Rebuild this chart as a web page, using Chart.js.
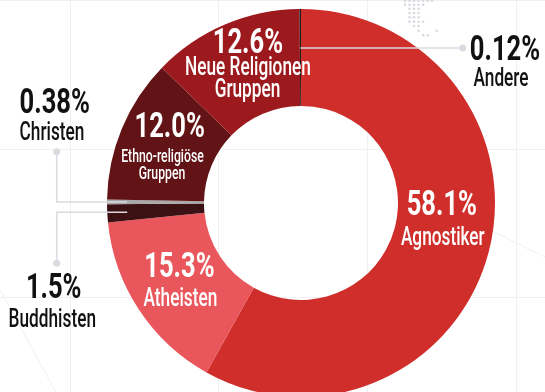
<!DOCTYPE html>
<html><head><meta charset="utf-8">
<script src="https://cdn.jsdelivr.net/npm/chart.js@4.4.1/dist/chart.umd.min.js"></script>
<style>
html,body{margin:0;padding:0;overflow:hidden;background:#fff;width:545px;height:392px}
#wrap{position:relative;width:545px;height:406px}
canvas{display:block}
</style></head>
<body><div id="wrap"><canvas id="c" width="545" height="406"></canvas></div>
<script>
// ---- data ----
const categories = ['Agnostiker','Atheisten','Buddhisten','Christen','Ethno-religiöse Gruppen','Neue Religionen Gruppen','Andere'];
const shares = [58.1, 15.3, 1.5, 0.38, 12.0, 12.6, 0.12];
const shareLabels = ['58.1%','15.3%','1.5%','0.38%','12.0%','12.6%','0.12%'];
const nameLines = [['Agnostiker'],['Atheisten'],['Buddhisten'],['Christen'],['Ethno-religiöse','Gruppen'],['Neue Religionen','Gruppen'],['Andere']];
const sliceColors = ['#cf2e2b','#e9565b','#3c1113','#a8a8a8','#611315','#9c1a1e','#1c1c1c'];

// ---- label layout (styles / positions) ----
const FONT = 'Roboto, "Liberation Sans", sans-serif';
const PCT = {size:35, weight:700, sx:0.73};
const NAME = {size:25, weight:500, sx:0.69};
const SMALL = {size:18, weight:500, sx:0.68};
// inside labels: offsets relative to the arc centre point
const insideLayout = {
  0: {pct:[0,-24.7], names:[[1,5.3,NAME]]},
  1: {pct:[0,-6.2], names:[[1,23.1,NAME]]},
  4: {pct:[3,-10.4], names:[[-4.2,14.6,SMALL],[-4.7,32.2,SMALL]]},
  5: {pct:[4,-15.7], names:[[4,5.8,NAME],[3.6,28.3,NAME]]}
};
// outside labels with leader lines
const outsideLayout = {
  6: {r:155, elbow:null, dot:[462.7,null], pct:[505,60], name:[501,86]},
  3: {r:174, elbow:56.7, dot:[56.7,151.7], pct:[54.7,113.3], name:[52,140]},
  2: {r:174, elbow:56.7, dot:[56.7,263.3], pct:[53.7,298.3], name:[52.3,326.7]}
};
const LEADER = '#dadae0';

function drawText(ctx, txt, x, y, st, color){
  ctx.save();
  ctx.font = st.weight + ' ' + st.size + 'px ' + FONT;
  ctx.fillStyle = color;
  ctx.textAlign = 'center';
  ctx.textBaseline = 'alphabetic';
  ctx.translate(x, y);
  ctx.scale(st.sx, 1);
  ctx.fillText(txt, 0, 0);
  ctx.restore();
}

const backgroundPlugin = {
  id: 'bg',
  beforeDraw(chart){
    const ctx = chart.ctx;
    ctx.save();
    ctx.fillStyle = '#fff';
    ctx.fillRect(0,0,chart.width,chart.height);
    ctx.strokeStyle = '#f0f0f3';
    ctx.lineWidth = 1;
    ctx.beginPath();
    [70.5, 218.5, 367.5, 516.5].forEach(x=>{ctx.moveTo(x,0);ctx.lineTo(x,chart.height);});
    [0.5, 149.5, 297.5].forEach(y=>{ctx.moveTo(0,y);ctx.lineTo(chart.width,y);});
    ctx.moveTo(0,290); ctx.lineTo(56,392);
    ctx.moveTo(490,230); ctx.lineTo(545,257);
    ctx.stroke();
    // faint dot texture
    ctx.fillStyle = '#d9d9df';
    const rows = [
      [0.7,[405,409.5,414,418.5,423,427.5,432]],
      [4.7,[405,409.5,414,418.5,423]],
      [8.7,[409.5,414,418.5]],
      [13,[409.5,414,418.5]],
      [17.3,[409.5,414,418.5]],
      [21.7,[409.5,414,418.5,423]],
      [26,[414,418.5]],
      [30.7,[418.5,436.7]],
      [35.3,[423.3,428]]
    ];
    rows.forEach(([y,xs])=>xs.forEach(x=>{ctx.beginPath();ctx.arc(x,y,1.3,0,Math.PI*2);ctx.fill();}));
    ctx.restore();
  }
};

const labelPlugin = {
  id: 'labels',
  afterDatasetsDraw(chart){
    const ctx = chart.ctx;
    const meta = chart.getDatasetMeta(0);
    Object.keys(insideLayout).forEach(k=>{
      const i = +k, L = insideLayout[k];
      const c = meta.data[i].getCenterPoint();
      drawText(ctx, shareLabels[i], c.x + L.pct[0], c.y + L.pct[1], PCT, '#fff');
      nameLines[i].forEach((t,j)=>{
        const n = L.names[j];
        drawText(ctx, t, c.x + n[0], c.y + n[1], n[2], '#fff');
      });
    });
    Object.keys(outsideLayout).forEach(k=>{
      const i = +k, L = outsideLayout[k];
      const a = meta.data[i].getProps(['x','y','startAngle','endAngle']);
      const mid = (a.startAngle + a.endAngle)/2;
      const sx = a.x + Math.cos(mid)*L.r, sy = a.y + Math.sin(mid)*L.r;
      ctx.save();
      ctx.strokeStyle = LEADER; ctx.fillStyle = LEADER; ctx.lineWidth = 1.5;
      ctx.beginPath();
      ctx.moveTo(sx, sy);
      let dx, dy;
      if (L.elbow === null){ dx = L.dot[0]; dy = sy; ctx.lineTo(dx, dy); }
      else { ctx.lineTo(L.elbow, sy); dx = L.dot[0]; dy = L.dot[1]; ctx.lineTo(dx, dy); }
      ctx.stroke();
      ctx.beginPath(); ctx.arc(dx, dy, 3.5, 0, Math.PI*2); ctx.fill();
      ctx.restore();
      drawText(ctx, shareLabels[i], L.pct[0], L.pct[1], PCT, '#111');
      drawText(ctx, nameLines[i][0], L.name[0], L.name[1], NAME, '#111');
    });
  }
};

new Chart(document.getElementById('c'), {
  type: 'doughnut',
  data: {
    labels: categories,
    datasets: [{
      data: shares,
      backgroundColor: sliceColors,
      borderWidth: 0,
      hoverOffset: 0,
      offset: 0
    }]
  },
  options: {
    responsive: false,
    animation: false,
    events: [],
    cutout: '50%',
    layout: {padding: {left: 57, right: 0, top: 9, bottom: 9}},
    plugins: {legend: {display: false}, tooltip: {enabled: false}}
  },
  plugins: [backgroundPlugin, labelPlugin]
});
</script>
</body></html>
